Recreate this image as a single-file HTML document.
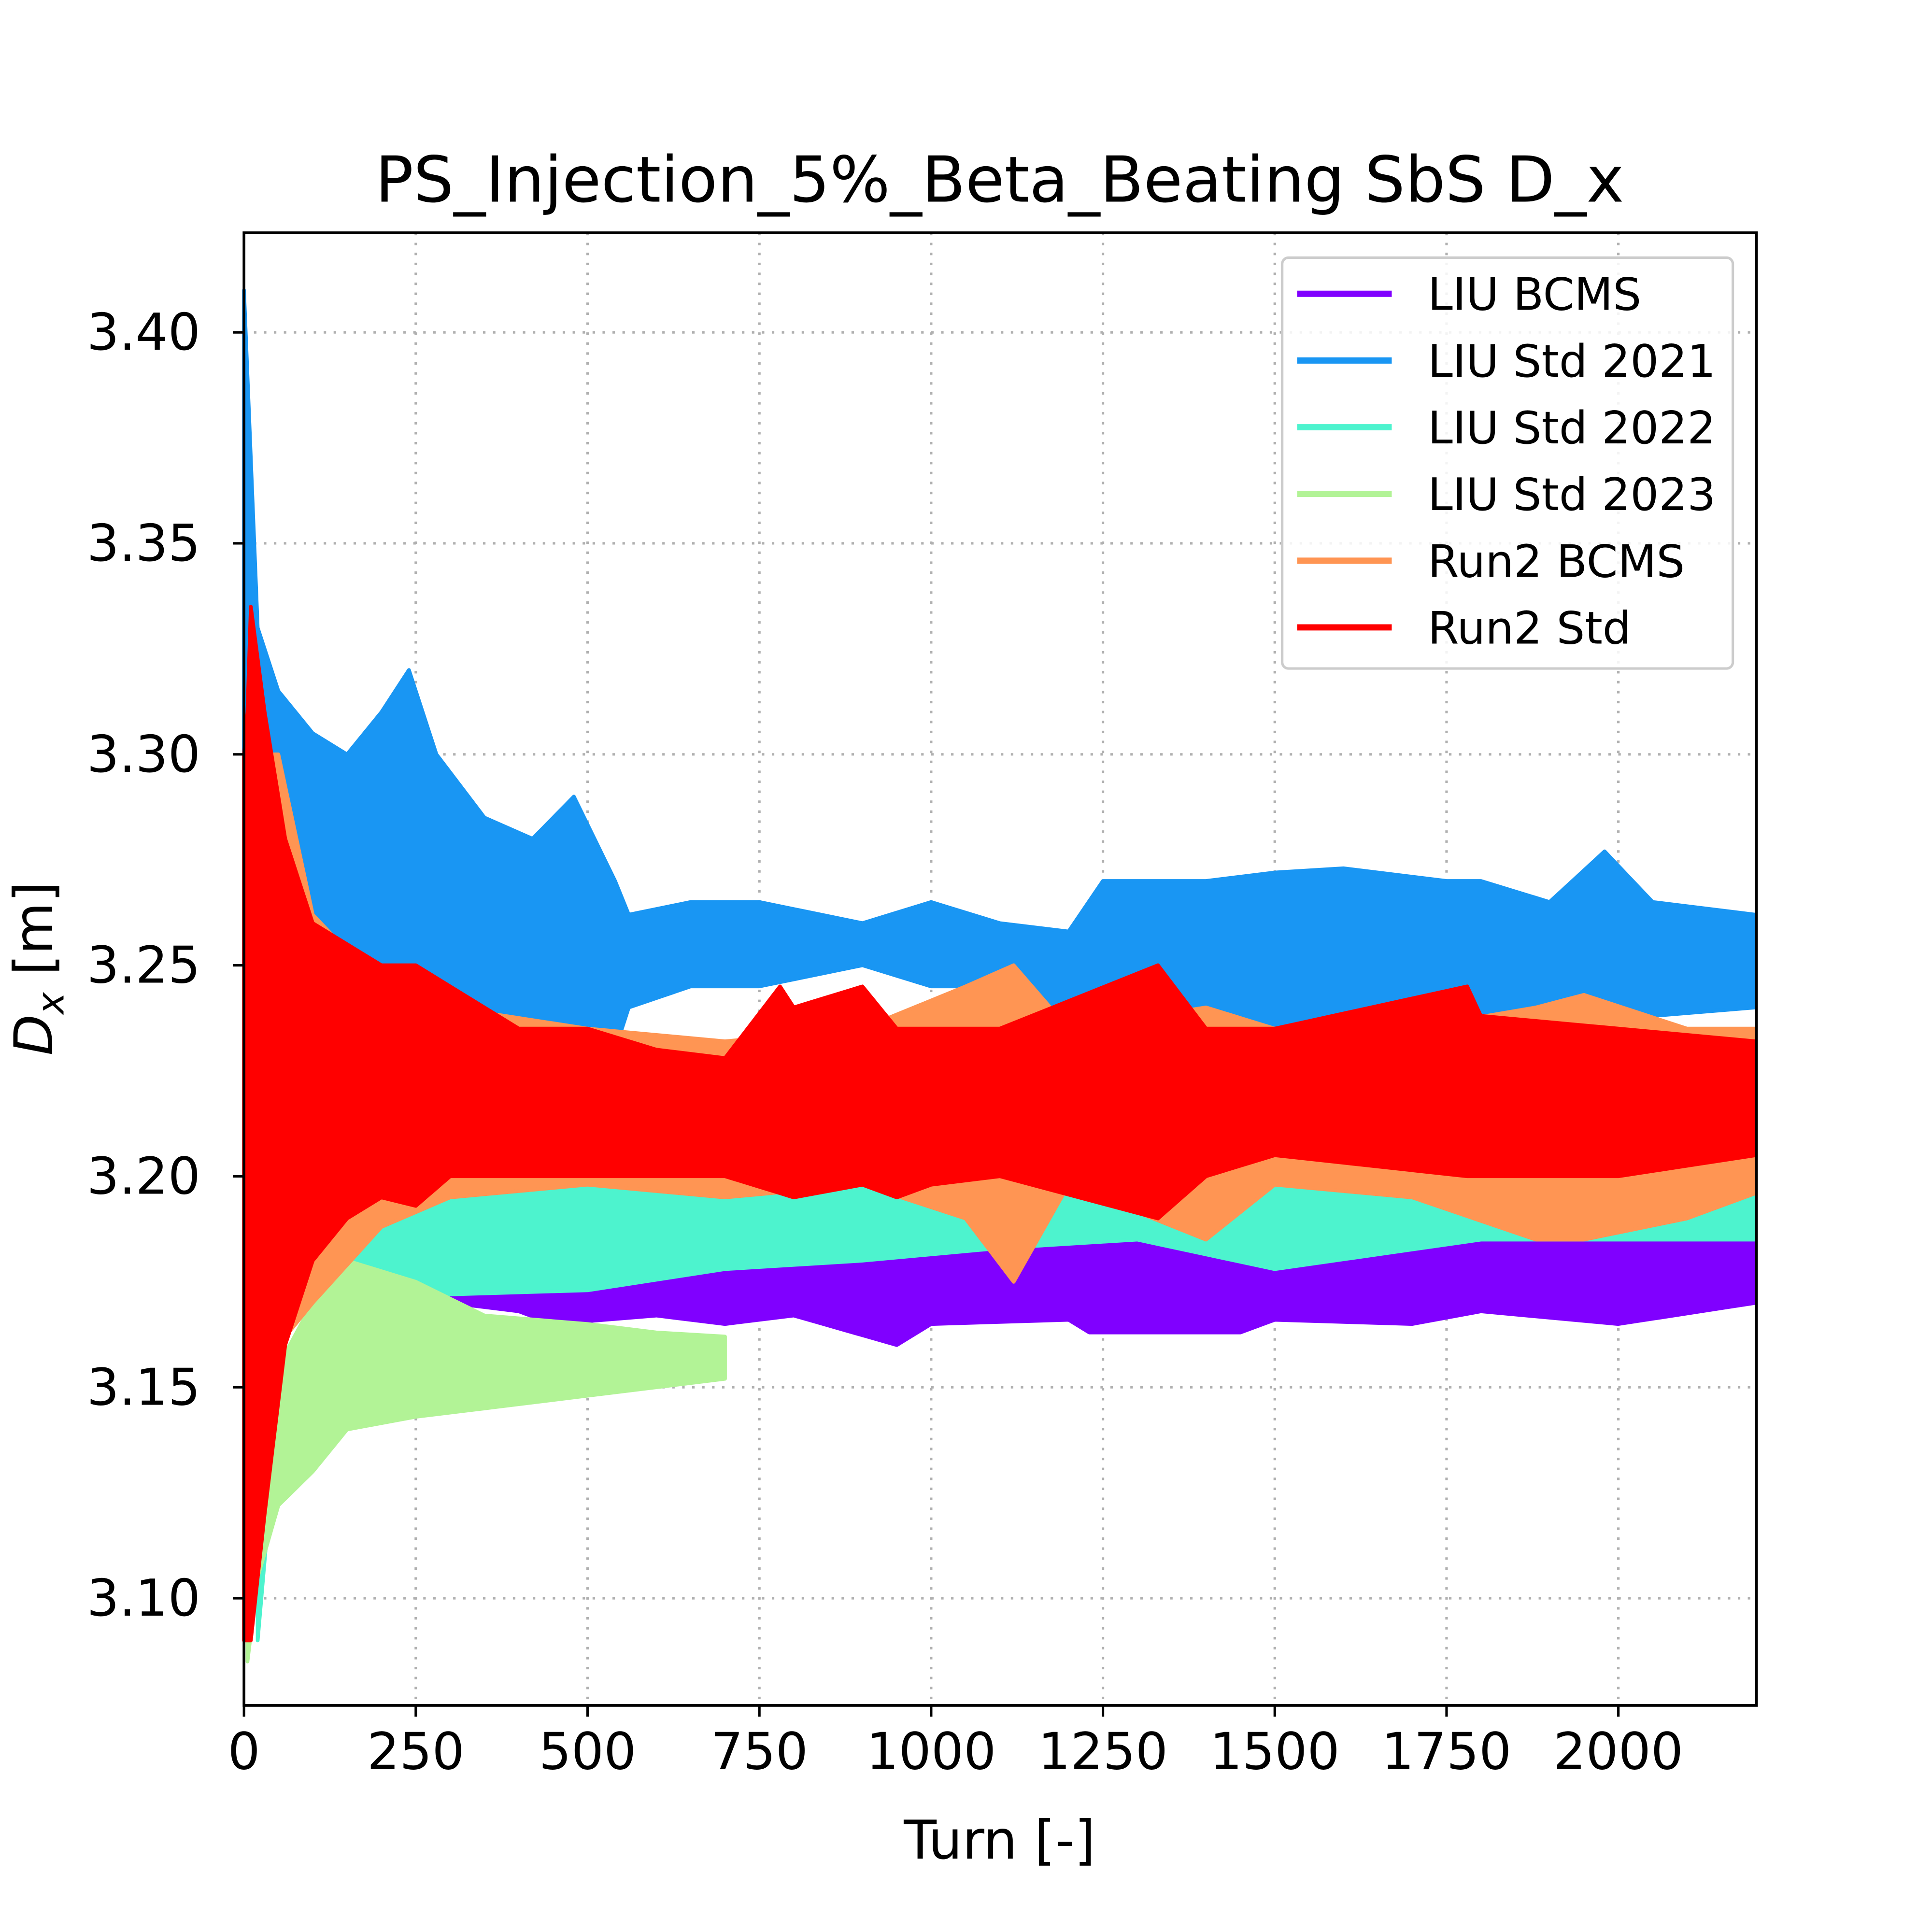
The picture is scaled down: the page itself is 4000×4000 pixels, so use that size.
<!DOCTYPE html>
<html><head><meta charset="utf-8"><style>
html,body{margin:0;padding:0;background:#fff;}
svg{display:block;font-family:"DejaVu Sans","Liberation Sans",sans-serif;}
</style></head><body>
<svg id="chart" width="4000" height="4000" viewBox="0 0 1552 1552" xmlns="http://www.w3.org/2000/svg">
<rect width="1552" height="1552" fill="#fff"/>
<g id="grid"></g>
<g id="series"></g>
<rect x="196" y="187" width="1215" height="1183" fill="none" stroke="#000" stroke-width="2.2"/>
<g id="ticks"></g>
<text x="803" y="162" font-size="51" text-anchor="middle">PS_Injection_5%_Beta_Beating SbS D_x</text>
<text x="803" y="1493" font-size="43" text-anchor="middle">Turn [-]</text>
<text transform="translate(42,778) rotate(-90)" font-size="43" text-anchor="middle"><tspan font-style="italic">D</tspan><tspan font-style="italic" font-size="30" dy="9">x</tspan><tspan dy="-9"> [m]</tspan></text>
<g id="legend">
<rect x="1030" y="207" width="362" height="330" rx="5" fill="#fff" fill-opacity="0.85" stroke="#ccc" stroke-width="2"/>
</g>
</svg>
<script>
const names = ["LIU BCMS","LIU Std 2021","LIU Std 2022","LIU Std 2023","Run2 BCMS","Run2 Std"];
const colors = ["#8000ff","#1996f3","#4df3ce","#b2f396","#ff9553","#ff0000"];
const xTicks = [0,250,500,750,1000,1250,1500,1750,2000];
const yTicks = [3.10,3.15,3.20,3.25,3.30,3.35,3.40];
// envelopes: turns, upper, lower
const purpleT = [150,300,400,450,600,700,800,950,1000,1200,1230,1450,1500,1700,1800,2000,2200];
const purpleHi = [3.185,3.185,3.19,3.188,3.185,3.185,3.185,3.183,3.185,3.19,3.188,3.186,3.19,3.188,3.19,3.188,3.185];
const purpleLo = [3.175,3.17,3.168,3.165,3.167,3.165,3.167,3.16,3.165,3.166,3.163,3.163,3.166,3.165,3.168,3.165,3.17];
const blueT = [0,10,20,50,100,150,200,240,280,350,420,480,540,560,650,750,900,1000,1100,1200,1250,1400,1500,1600,1750,1800,1900,1980,2050,2200];
const blueHi = [3.41,3.37,3.33,3.315,3.305,3.30,3.31,3.32,3.30,3.285,3.28,3.29,3.27,3.262,3.265,3.265,3.26,3.265,3.26,3.258,3.27,3.27,3.272,3.273,3.27,3.27,3.265,3.277,3.265,3.262];
const blueLo = [3.25,3.25,3.245,3.24,3.24,3.24,3.238,3.232,3.228,3.222,3.222,3.225,3.23,3.24,3.245,3.245,3.25,3.245,3.245,3.235,3.235,3.235,3.235,3.235,3.235,3.235,3.235,3.235,3.238,3.24];
const tealT = [20,60,100,200,300,500,700,900,1100,1300,1500,1800,2000,2200];
const tealHi = [3.10,3.18,3.195,3.20,3.205,3.205,3.205,3.20,3.195,3.195,3.205,3.20,3.198,3.195];
const tealLo = [3.09,3.165,3.178,3.175,3.172,3.173,3.178,3.18,3.183,3.185,3.178,3.185,3.185,3.185];
const greenT = [5,20,50,100,150,250,350,500,600,700];
const greenHi = [3.09,3.12,3.155,3.17,3.18,3.175,3.167,3.165,3.163,3.162];
const greenLo = [3.085,3.105,3.122,3.13,3.14,3.143,3.145,3.148,3.15,3.152];
const orangeT = [10,50,100,200,300,500,700,900,1050,1120,1200,1400,1500,1700,1880,1950,2100,2200];
const orangeHi = [3.30,3.30,3.262,3.245,3.24,3.235,3.232,3.235,3.245,3.25,3.235,3.24,3.235,3.235,3.24,3.243,3.235,3.235];
const orangeLo = [3.10,3.16,3.17,3.188,3.195,3.198,3.195,3.198,3.19,3.175,3.198,3.185,3.198,3.195,3.185,3.185,3.19,3.196];
const redT = [0,5,10,30,60,100,150,200,250,300,400,500,600,700,780,800,900,950,1000,1100,1330,1400,1500,1780,1800,2000,2200];
const redHi = [3.30,3.31,3.335,3.31,3.28,3.26,3.255,3.25,3.25,3.245,3.235,3.235,3.23,3.228,3.245,3.24,3.245,3.235,3.235,3.235,3.25,3.235,3.235,3.245,3.238,3.235,3.232];
const redLo = [3.09,3.09,3.09,3.12,3.16,3.18,3.19,3.195,3.193,3.20,3.20,3.20,3.20,3.20,3.196,3.195,3.198,3.195,3.198,3.20,3.19,3.20,3.205,3.20,3.20,3.20,3.205];

const NS = "http://www.w3.org/2000/svg";
const X0=196, X1=1411, Y0=187, Y1=1370, XMIN=0, XMAX=2201, YMIN=3.0746, YMAX=3.4236;
const xs = v => X0 + (v-XMIN)/(XMAX-XMIN)*(X1-X0);
const ys = v => Y1 - (v-YMIN)/(YMAX-YMIN)*(Y1-Y0);
function mk(tag, attrs, parent){const e=document.createElementNS(NS,tag);for(const k in attrs)e.setAttribute(k,attrs[k]);parent.appendChild(e);return e;}
const grid=document.getElementById('grid'), ticks=document.getElementById('ticks'), series=document.getElementById('series'), legend=document.getElementById('legend');
xTicks.forEach(t=>{
  const g=mk('line',{x1:xs(t),x2:xs(t),y1:Y0,y2:Y1,stroke:'#b0b0b0','stroke-width':2,'stroke-dasharray':'2,6'},grid);
  
  
  const l=mk('line',{x1:xs(t),x2:xs(t),y1:Y1,y2:Y1+9,stroke:'#000','stroke-width':2},ticks);
  
  
  const tx=mk('text',{x:xs(t),y:1421,'font-size':41,'text-anchor':'middle'},ticks);
  tx.textContent=t;
  
  
});
yTicks.forEach(t=>{
  const g=mk('line',{x1:X0,x2:X1,y1:ys(t),y2:ys(t),stroke:'#b0b0b0','stroke-width':2,'stroke-dasharray':'2,6'},grid);
  
  
  const l=mk('line',{x1:X0-9,x2:X0,y1:ys(t),y2:ys(t),stroke:'#000','stroke-width':2},ticks);
  
  
  const tx=mk('text',{x:X0-35,y:ys(t)+14,'font-size':41,'text-anchor':'end'},ticks);
  tx.textContent=t.toFixed(2);
  
  
});
const env=[[purpleT,purpleHi,purpleLo],[blueT,blueHi,blueLo],[tealT,tealHi,tealLo],[greenT,greenHi,greenLo],[orangeT,orangeHi,orangeLo],[redT,redHi,redLo]];
env.forEach((e,i)=>{
  const [T,H,L]=e; let pts=[];
  T.forEach((t,k)=>pts.push(xs(t).toFixed(1)+','+ys(H[k]).toFixed(1)));
  for(let k=T.length-1;k>=0;k--)pts.push(xs(T[k]).toFixed(1)+','+ys(L[k]).toFixed(1));
  const p=mk('polygon',{points:pts.join(' '),fill:colors[i],stroke:colors[i],'stroke-width':3,'stroke-linejoin':'round'},series);
  
  
});
names.forEach((n,i)=>{
  const y=236+i*53.6;
  const l=mk('line',{x1:1042,x2:1118,y1:y,y2:y,stroke:colors[i],'stroke-width':5},legend);
  
  
  const t=mk('text',{x:1147,y:y+13,'font-size':36},legend);
  t.textContent=n;
  
  
});
</script>
</body></html>
